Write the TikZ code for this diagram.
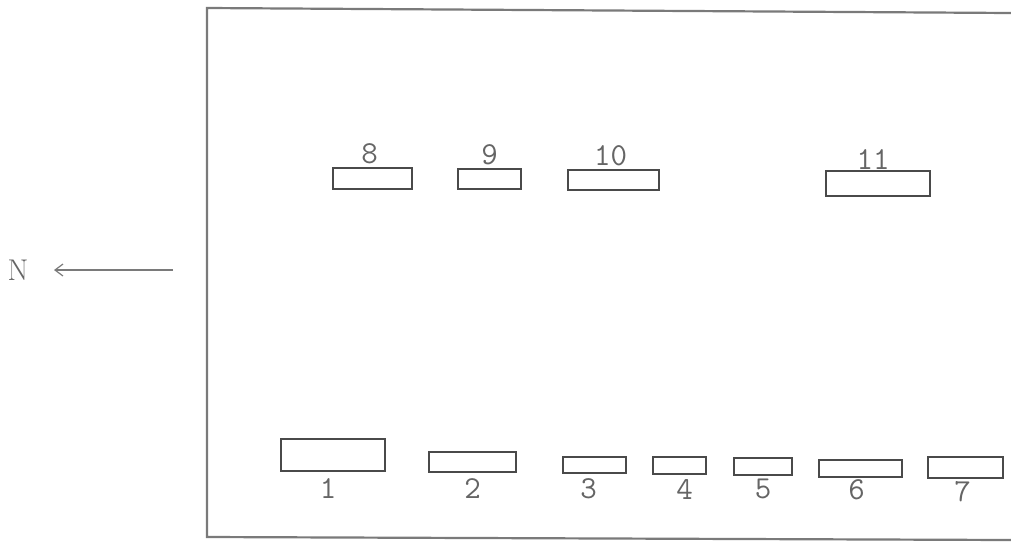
\documentclass[tikz,border=0pt]{standalone}
\usepackage{amsmath,amssymb}
\usepackage{xcolor}
\usepackage{tikz}
\usetikzlibrary{positioning,arrows.meta}

\definecolor{inkgray}{HTML}{4A4A4A}
\definecolor{framegray}{HTML}{7A7A7A}

\begin{document}
\begin{tikzpicture}[x=1pt, y=-1pt,
    band/.style={draw=inkgray, line width=1.7pt, inner sep=0pt},
    lab/.style={inner sep=0pt, text=inkgray!85, font=\fontsize{32}{36}\selectfont\ttfamily}]
    \useasboundingbox (0,0) rectangle (1011,542);

    % Plate outline
    \draw[framegray, line width=2.2pt] (1011,13) -- (207,8) -- (207,537) -- (1011,540);

    % Direction
    \node[text=inkgray!85, font=\fontsize{30}{34}\selectfont] (n) at (18,270) {N};
    \coordinate (tail) at (173,270);
    \coordinate (head) at (54,270);
    \draw[framegray, line width=1.2pt, -{Straight Barb[length=8pt,width=12pt]}] (tail) -- (head);

    % Upper row
    \node[band, minimum width=79pt, minimum height=21pt] (b8) at (372.5,178.5) {};
    \node[band, minimum width=63pt, minimum height=20pt] (b9) at (489.5,179) {};
    \node[band, minimum width=91pt, minimum height=20pt] (b10) at (613.5,180) {};
    \node[band, minimum width=104pt, minimum height=25pt] (b11) at (878,183.5) {};
    \node[lab, above=3pt of b8, xshift=-3pt] (l8) {8};
    \node[lab, above=3pt of b9] (l9) {9};
    \node[lab, above=3pt of b10, xshift=-3pt] (l10) {10};
    \node[lab, above=0pt of b11, xshift=-5pt] (l11) {11};

    % Lower row
    \node[band, minimum width=104pt, minimum height=32pt] (b1) at (333,455) {};
    \node[band, minimum width=87pt, minimum height=20pt] (b2) at (472.5,462) {};
    \node[band, minimum width=63pt, minimum height=16pt] (b3) at (594.5,465) {};
    \node[band, minimum width=53pt, minimum height=17pt] (b4) at (679.5,465.5) {};
    \node[band, minimum width=58pt, minimum height=17pt] (b5) at (763,466.5) {};
    \node[band, minimum width=83pt, minimum height=17pt] (b6) at (860.5,468.5) {};
    \node[band, minimum width=75pt, minimum height=21pt] (b7) at (965.5,467.5) {};
    \node[lab, below=7pt of b1, xshift=-5pt] (l1) {1};
    \node[lab, below=6pt of b2] (l2) {2};
    \node[lab, below=5pt of b3, xshift=-6pt] (l3) {3};
    \node[lab, below=4pt of b4, xshift=5pt] (l4) {4};
    \node[lab, below=3pt of b5] (l5) {5};
    \node[lab, below=2pt of b6, xshift=-4pt] (l6) {6};
    \node[lab, below=2pt of b7, xshift=-3pt] (l7) {7};
\end{tikzpicture}
\end{document}
